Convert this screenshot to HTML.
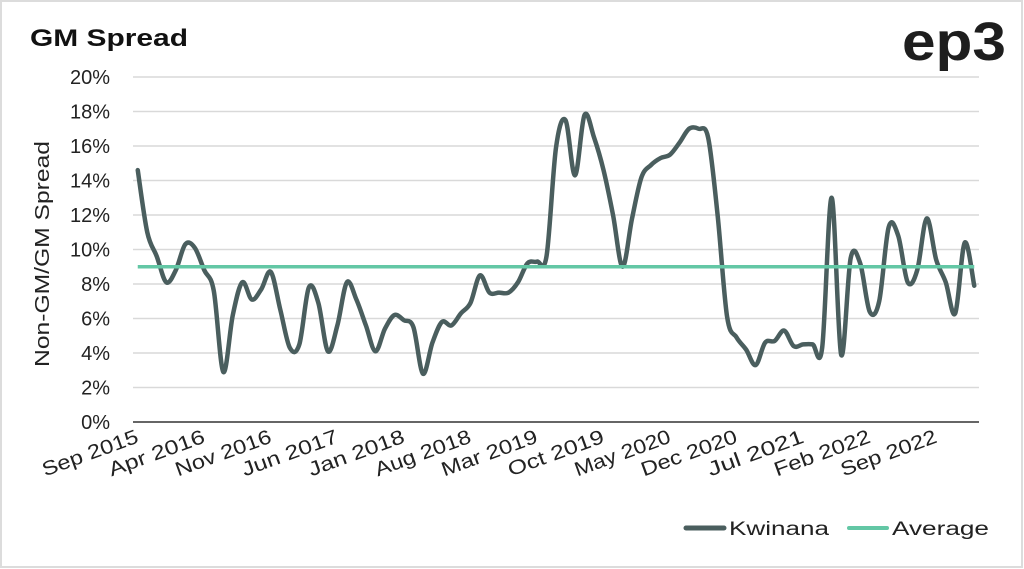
<!DOCTYPE html>
<html><head><meta charset="utf-8"><style>
html,body{margin:0;padding:0;background:#fff;}
svg{display:block;font-family:"Liberation Sans",sans-serif;}
</style></head><body>
<svg id="chart" width="1024" height="569" viewBox="0 0 1024 569">
<rect x="1" y="1" width="1021" height="566" fill="#fff" stroke="#dcdcdc" stroke-width="2"/>
<text x="30" y="46" font-size="24" font-weight="bold" fill="#111" textLength="158" lengthAdjust="spacingAndGlyphs">GM Spread</text>
<text x="902" y="60" font-size="54" font-weight="bold" fill="#1e1e1e" textLength="104" lengthAdjust="spacingAndGlyphs">ep3</text>
<text transform="translate(49,254) rotate(-90)" text-anchor="middle" font-size="20" fill="#222" textLength="226" lengthAdjust="spacingAndGlyphs">Non-GM/GM Spread</text>
<g id="grid"></g><g id="yticks"></g><g id="xticks"></g><g id="series"></g>
<g>
<line x1="686" y1="528" x2="724" y2="528" stroke="#4a5e5e" stroke-width="5" stroke-linecap="round"/>
<text x="729" y="535" font-size="19" fill="#222" textLength="100" lengthAdjust="spacingAndGlyphs">Kwinana</text>
<line x1="849" y1="528" x2="887" y2="528" stroke="#63c7a5" stroke-width="4" stroke-linecap="round"/>
<text x="892" y="535" font-size="19" fill="#222" textLength="97" lengthAdjust="spacingAndGlyphs">Average</text>
</g>
</svg>
<script>
const kwinana = [14.6,11.0,9.6,8.1,8.8,10.3,10.1,8.8,7.6,2.9,6.2,8.1,7.1,7.7,8.7,6.5,4.3,4.5,7.8,6.9,4.1,5.6,8.1,7.1,5.6,4.1,5.4,6.2,5.9,5.5,2.8,4.6,5.8,5.6,6.3,6.9,8.5,7.5,7.5,7.5,8.1,9.2,9.3,9.6,15.9,17.5,14.3,17.8,16.5,14.6,12.0,9.0,11.8,14.2,14.9,15.3,15.5,16.2,17.0,17.0,16.5,12.0,6.1,4.9,4.2,3.3,4.6,4.7,5.3,4.4,4.5,4.5,4.3,13.0,3.9,9.5,9.2,6.4,7.0,11.3,10.8,8.1,8.8,11.8,9.4,8.1,6.3,10.4,7.9];
const averageValue = [9.0];
const yTicks = [0,2,4,6,8,10,12,14,16,18,20];
const labelEvery = 7;
const monthNames = ["Jan","Feb","Mar","Apr","May","Jun","Jul","Aug","Sep","Oct","Nov","Dec"];
const categories = kwinana.map((_,i)=>monthNames[(8+i)%12]+" "+(2015+Math.floor((8+i)/12)));

const NS="http://www.w3.org/2000/svg";
const L=133,R=979,T=77,B=422;
const n=categories.length, band=(R-L)/n;
const xS=i=>L+band*(i+0.5);
const yS=v=>B-(v/20)*(B-T);
function mk(tag,attrs,parent){const e=document.createElementNS(NS,tag);for(const k in attrs)e.setAttribute(k,attrs[k]);parent.appendChild(e);return e;}
const grid=document.getElementById('grid'),yt=document.getElementById('yticks'),xt=document.getElementById('xticks'),ser=document.getElementById('series');
yTicks.forEach(v=>{
  const ln=mk('line',{x1:L,x2:R,y1:yS(v),y2:yS(v),stroke:v===0?'#333':'#d9d9d9','stroke-width':1.5},grid);
  
  
  const t=mk('text',{x:110,y:yS(v)+7,'text-anchor':'end','font-size':20,fill:'#222'},yt);
  t.textContent=v+'%';
  
  
});
categories.forEach((c,i)=>{
  if(i%labelEvery!==0)return;
  const x=xS(i)+2, y=442;
  const t=mk('text',{x:x,y:y,'text-anchor':'end','font-size':20,fill:'#222',textLength:c.length*12.6,lengthAdjust:'spacingAndGlyphs',transform:`rotate(-20 ${x} ${y})`},xt);
  t.textContent=c;
  
  
});
const pts=kwinana.map((v,i)=>[xS(i),yS(v)]);
let d=`M${pts[0][0]},${pts[0][1]}`;
for(let i=0;i<pts.length-1;i++){
  const p0=pts[Math.max(i-1,0)],p1=pts[i],p2=pts[i+1],p3=pts[Math.min(i+2,pts.length-1)];
  const t=1/6;
  d+=` C${p1[0]+(p2[0]-p0[0])*t},${p1[1]+(p2[1]-p0[1])*t} ${p2[0]-(p3[0]-p1[0])*t},${p2[1]-(p3[1]-p1[1])*t} ${p2[0]},${p2[1]}`;
}
const p=mk('path',{d:d,fill:'none',stroke:'#4a5e5e','stroke-width':4.5,'stroke-linejoin':'round','stroke-linecap':'round'},ser);


const avg=mk('line',{x1:xS(0),x2:xS(n-1),y1:yS(averageValue[0]),y2:yS(averageValue[0]),stroke:'#63c7a5','stroke-width':3.5},ser);


</script>
</body></html>
